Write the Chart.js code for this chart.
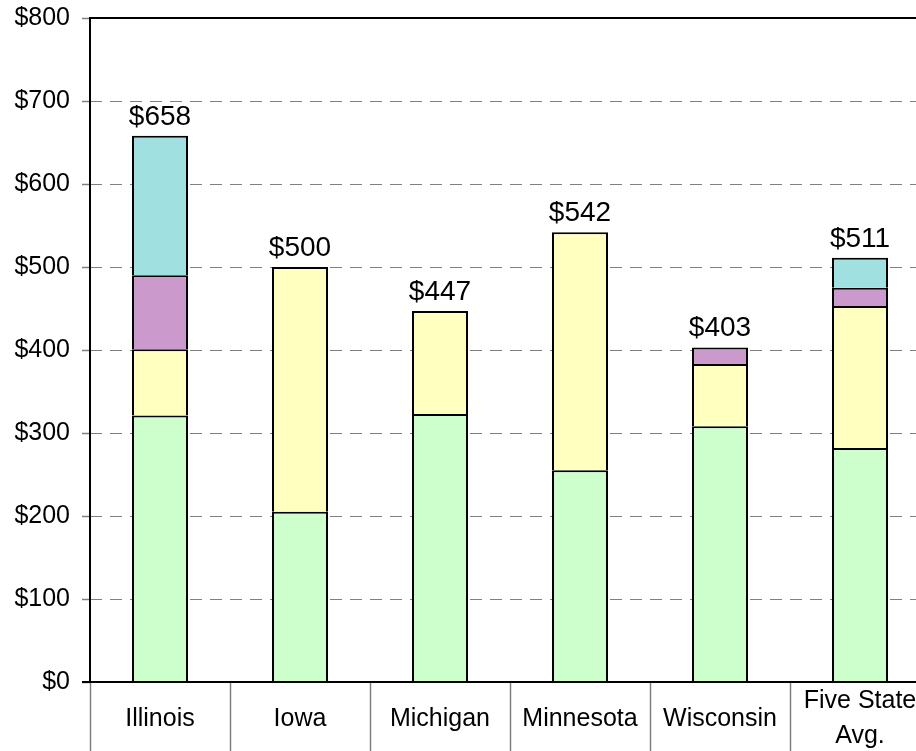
<!DOCTYPE html>
<html><head><meta charset="utf-8">
<script src="https://cdn.jsdelivr.net/npm/chart.js@4"></script>
<style>
html,body{margin:0;padding:0;overflow:hidden;background:#fff}
#wrap{width:950px;height:751px;position:relative}
</style>
</head><body><div id="wrap"><canvas id="c"></canvas></div>
<script>
const categories = ["Illinois", "Iowa", "Michigan", "Minnesota", "Wisconsin", ["Five State", "Avg."]];
const seriesGreen  = [321, 205, 323, 255, 308, 282];
const seriesYellow = [80, 295, 124, 287, 75, 171];
const seriesPurple = [89, null, null, null, 20, 22];
const seriesCyan   = [168, null, null, null, null, 36];
const totals = [658, 500, 447, 542, 403, 511];
const yTicks = [0, 100, 200, 300, 400, 500, 600, 700, 800];

const FONT = "'Liberation Sans', Arial, sans-serif";

const overlay = {
  id: 'overlay',
  afterDraw(chart) {
    const ctx = chart.ctx, a = chart.chartArea;
    const xs = chart.scales.x, ys = chart.scales.y;
    ctx.save();
    ctx.strokeStyle = '#000';
    ctx.lineWidth = 2;
    ctx.beginPath();
    ctx.moveTo(a.left, a.top); ctx.lineTo(a.left, a.bottom);
    ctx.moveTo(a.left - 1, a.top); ctx.lineTo(a.right, a.top);
    ctx.lineTo(a.right, a.bottom);
    ctx.moveTo(a.left - 8, a.bottom); ctx.lineTo(a.right, a.bottom);
    ctx.stroke();
    ctx.fillStyle = '#000';
    ctx.font = '25px ' + FONT;
    ctx.textAlign = 'center';
    ctx.textBaseline = 'middle';
    const midY = a.bottom + 37;
    const lh = 35;
    categories.forEach((c, i) => {
      const lines = Array.isArray(c) ? c : [c];
      const x = xs.getPixelForValue(i);
      const y0 = midY - (lines.length - 1) * lh / 2;
      lines.forEach((t, k) => ctx.fillText(t, x, y0 + k * lh));
    });
    ctx.font = '28px ' + FONT;
    ctx.textBaseline = 'bottom';
    totals.forEach((t, i) => {
      const x = xs.getPixelForValue(i);
      const y = ys.getPixelForValue(t);
      ctx.fillText('$' + t, x, y - 5);
    });
    ctx.restore();
  }
};

const common = { borderColor: '#000', borderWidth: 2, barPercentage: 0.4, categoryPercentage: 1.0 };

new Chart(document.getElementById('c'), {
  type: 'bar',
  data: {
    labels: categories,
    datasets: [
      Object.assign({ label: 'Series 1', data: seriesGreen,  backgroundColor: '#CCFFCC' }, common),
      Object.assign({ label: 'Series 2', data: seriesYellow, backgroundColor: '#FFFFC0' }, common),
      Object.assign({ label: 'Series 3', data: seriesPurple, backgroundColor: '#CC99CC' }, common),
      Object.assign({ label: 'Series 4', data: seriesCyan,   backgroundColor: '#A0E0E0' }, common)
    ]
  },
  options: {
    responsive: true,
    maintainAspectRatio: false,
    animation: false,
    devicePixelRatio: 1,
    layout: { padding: { top: 18, right: 20, left: 0, bottom: 0 } },
    plugins: { legend: { display: false }, tooltip: { enabled: false } },
    scales: {
      x: {
        stacked: true,
        offset: true,
        grid: { offset: true, drawOnChartArea: false, drawTicks: true, tickLength: 69, tickColor: '#808080', tickWidth: 1.5 },
        border: { display: false },
        ticks: { display: false },
        afterFit(s) { s.height = 69; s.paddingLeft = 0; s.paddingRight = 0; }
      },
      y: {
        stacked: true,
        min: yTicks[0],
        max: yTicks[yTicks.length - 1],
        afterBuildTicks(s) { s.ticks = yTicks.map(v => ({ value: v })); },
        ticks: { callback: v => '$' + v, font: { family: FONT, size: 25 }, color: '#000', padding: 12 },
        grid: { color: '#808080', lineWidth: 1, tickLength: 8, tickColor: '#808080', tickWidth: 1.5, tickBorderDash: [] },
        border: { display: false, dash: [12, 8] },
        afterFit(s) { s.width = 90; s.paddingTop = 0; s.paddingBottom = 0; }
      }
    }
  },
  plugins: [overlay]
});
</script>
</body></html>
